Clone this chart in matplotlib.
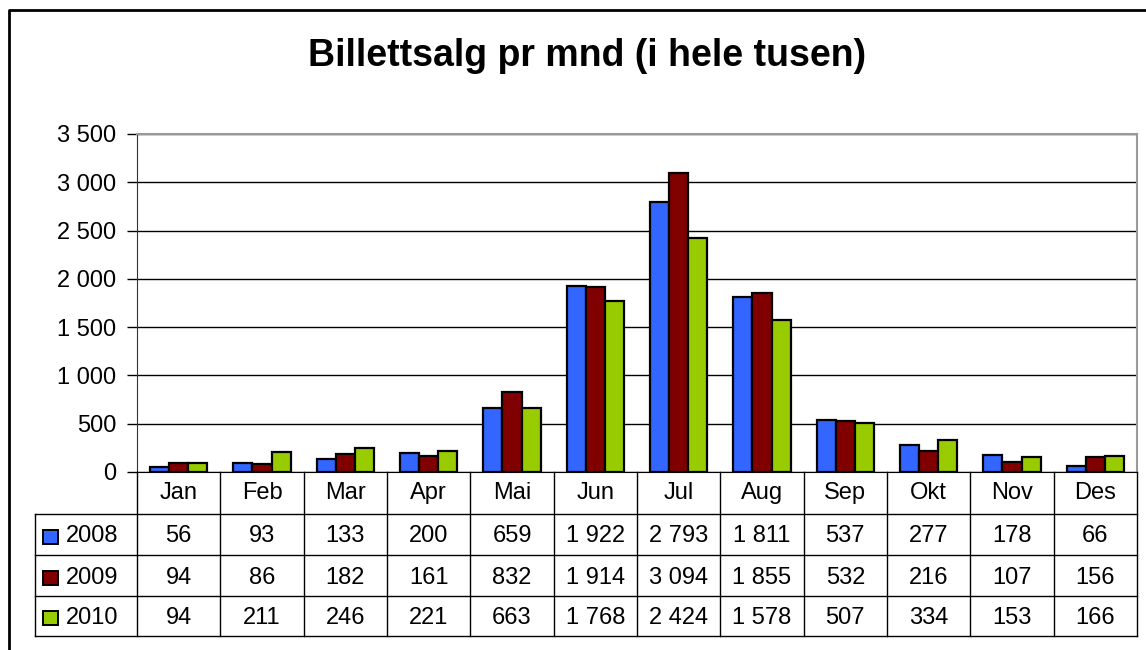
import matplotlib.pyplot as plt
import numpy as np
from matplotlib.transforms import blended_transform_factory
from matplotlib.patches import Rectangle
from matplotlib.lines import Line2D

months = ["Jan", "Feb", "Mar", "Apr", "Mai", "Jun", "Jul", "Aug", "Sep", "Okt", "Nov", "Des"]
years = ["2008", "2009", "2010"]
sales_2008 = [56, 93, 133, 200, 659, 1922, 2793, 1811, 537, 277, 178, 66]
sales_2009 = [94, 86, 182, 161, 832, 1914, 3094, 1855, 532, 216, 107, 156]
sales_2010 = [94, 211, 246, 221, 663, 1768, 2424, 1578, 507, 334, 153, 166]
colors = ["#3366FF", "#800000", "#99CC00"]
yticks = [0, 500, 1000, 1500, 2000, 2500, 3000, 3500]

plt.rcParams['font.family'] = ['Liberation Sans', 'DejaVu Sans']

W, H = 1146, 650
fig = plt.figure(figsize=(W / 100, H / 100), dpi=100)
fs = 17


def fx(px):
    return px / W


def fy(py):
    return 1 - py / H


def fmt(v):
    return f"{v:,}".replace(",", " ")


# plot area
x0, x1, ytop, ybot = 137, 1137, 134, 472
ax = fig.add_axes([fx(x0), fy(ybot), fx(x1 - x0), (ybot - ytop) / H])
series = [sales_2008, sales_2009, sales_2010]
x = np.arange(len(months))
bw = 0.23
for i, vals in enumerate(series):
    ax.bar(x + (i - 1) * bw, vals, bw, color=colors[i], edgecolor="black", linewidth=1.6, zorder=3)

ax.set_xlim(-0.5, len(months) - 0.5)
ax.set_ylim(0, 3500)
ax.set_yticks(yticks)
ax.set_yticklabels([fmt(v) for v in yticks], fontsize=fs)
ax.yaxis.grid(True, color="black", linewidth=1)
ax.set_axisbelow(True)
ax.set_xticks([])
ax.tick_params(axis="y", length=7, width=1, pad=8)
for side in ["top", "right"]:
    ax.spines[side].set_color("#999999")
    ax.spines[side].set_linewidth(1.5)
ax.spines["left"].set_color("#333333")
ax.spines["bottom"].set_color("black")

# data table below the axes
tr = blended_transform_factory(ax.transData, fig.transFigure)
row_lines = [472, 514, 555, 596, 636]
leg_x = 35
edges = np.arange(len(months) + 1) - 0.5
for e in edges:
    fig.add_artist(Line2D([e, e], [fy(472), fy(636)], transform=tr, color="black", linewidth=1))
for ry in row_lines[1:]:
    fig.add_artist(Line2D([fx(leg_x), fx(x1)], [fy(ry), fy(ry)], transform=fig.transFigure,
                          color="black", linewidth=1))
fig.add_artist(Line2D([fx(leg_x), fx(leg_x)], [fy(514), fy(636)], transform=fig.transFigure,
                      color="black", linewidth=1))

for j, m in enumerate(months):
    fig.text(j, fy((472 + 514) / 2), m, transform=tr, ha="center", va="center", fontsize=fs)
for i, vals in enumerate(series):
    cy = fy((row_lines[i + 1] + row_lines[i + 2]) / 2 + 2)
    for j, v in enumerate(vals):
        fig.text(j, cy, fmt(v), transform=tr, ha="center", va="center", fontsize=fs)
    fig.add_artist(Rectangle((fx(43), cy - 7 / H), fx(15), 14 / H, transform=fig.transFigure,
                             facecolor=colors[i], edgecolor="black", linewidth=1.4))
    fig.text(fx(66), cy, years[i], ha="left", va="center", fontsize=fs)

# title
fig.text(fx(587), fy(56), "Billettsalg pr mnd (i hele tusen)", ha="center", va="center",
         fontsize=27, fontweight="bold")

# outer chart border
fig.add_artist(Line2D([fx(9), fx(9), fx(W + 5)], [fy(H + 5), fy(10), fy(10)],
                      transform=fig.transFigure, color="black", linewidth=2))

fig.savefig("out.png", dpi=100)
